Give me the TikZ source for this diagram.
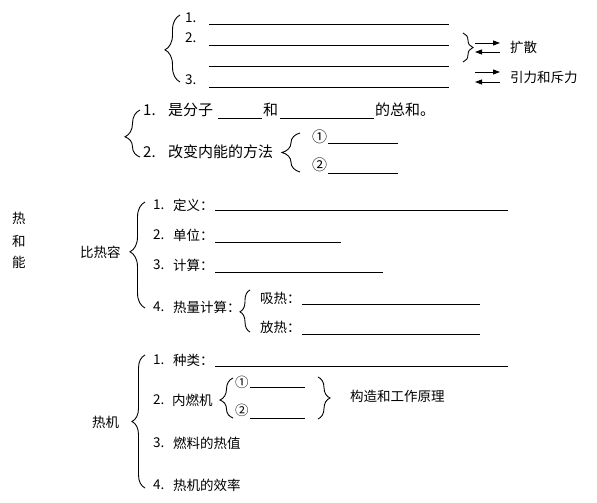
\documentclass[tikz,border=0pt]{standalone}
\usepackage{fontspec}
\setmainfont{Noto Sans CJK SC}
\usetikzlibrary{decorations.pathreplacing,arrows.meta}
\begin{document}
\begin{tikzpicture}[x=1pt,y=-1pt,
  txt/.style={anchor=west, inner sep=0pt, font=\fontsize{13.5}{15}\selectfont},
  big/.style={txt, font=\fontsize{15}{17}\selectfont},
  brc/.style={decorate, decoration={brace, amplitude=#1}, line width=0.9pt},
  brc/.default=14pt,
  blank/.style={line width=0.9pt},
  arr/.style={-{Triangle[length=7pt,width=5pt]}, line width=0.9pt}]
\useasboundingbox[fill=white] (0,0) rectangle (597,503);

% ---------- section 1 ----------
\draw[brc=15pt, decoration={aspect=0.48}] (180,82) -- (180,15);
\node[txt] (a1) at (185,18) {1.};
\node[txt] (a2) at (185,38) {2.};
\node[txt] (a3) at (185,80) {3.};
\draw[blank] (209,24) -- (449,24);
\draw[blank] (209,45) -- (449,45);
\draw[blank] (209,66) -- (449,66);
\draw[blank] (209,87) -- (449,87);
\draw[brc=10pt] (463,33) -- (463,62);
\node[txt] (kuosan) at (510,47) {扩散};
\node[txt] (yinli) at (510,77) {引力和斥力};
\coordinate (r1a) at (475,43); \coordinate (r1b) at (500,43);
\coordinate (l1a) at (500,52); \coordinate (l1b) at (475,52);
\coordinate (r2a) at (475,72); \coordinate (r2b) at (500,72);
\coordinate (l2a) at (500,82); \coordinate (l2b) at (475,82);
\draw[arr] (r1a) -- (r1b);
\draw[arr] (l1a) -- (l1b);
\draw[arr] (r2a) -- (r2b);
\draw[arr] (l2a) -- (l2b);

% ---------- section 2 ----------
\draw[brc=15pt, decoration={aspect=0.43}] (140,157) -- (140,110);
\node[big] (b1) at (143,110) {1.};
\node[big] (b1t) at (168,110) {是分子};
\draw[blank] (218,118) -- (262,118);
\node[big] (b1h) at (263,110) {和};
\draw[blank] (280,118) -- (374,118);
\node[big] (b1e) at (375,110) {的总和。};
\node[big] (b2) at (143,152) {2.};
\node[big] (b2t) at (168,152) {改变内能的方法};
\draw[brc=18pt] (300,172) -- (300,133);
\node[big] (c1) at (312,137) {①};
\draw[blank] (328,143) -- (398,143);
\node[big] (c2) at (312,165) {②};
\draw[blank] (328,173) -- (398,173);

% ---------- section 3 ----------
\node[txt] (re) at (12,218) {热};
\node[txt] (he) at (12,241) {和};
\node[txt] (neng) at (12,262) {能};
\node[txt] (brr) at (80,252) {比热容};
\draw[brc=15pt, decoration={aspect=0.53}] (145,308) -- (145,202);
\node[txt] (d1) at (153,205) {1.};
\node[txt] (d1t) at (173,205) {定义：};
\draw[blank] (215,210) -- (508,210);
\node[txt] (d2) at (153,235) {2.};
\node[txt] (d2t) at (173,235) {单位：};
\draw[blank] (215,242) -- (341,242);
\node[txt] (d3) at (153,265) {3.};
\node[txt] (d3t) at (173,265) {计算：};
\draw[blank] (215,272) -- (383,272);
\node[txt] (d4) at (153,307) {4.};
\node[txt] (d4t) at (173,307) {热量计算：};
\draw[brc=10pt, decoration={aspect=0.48}] (250,332) -- (250,290);
\node[txt] (xr) at (260,298) {吸热：};
\draw[blank] (302,304) -- (480,304);
\node[txt] (fr) at (260,327) {放热：};
\draw[blank] (302,334) -- (480,334);

% ---------- section 4 ----------
\node[txt] (rj) at (92,422) {热机};
\draw[brc=13pt] (145,488) -- (145,355);
\node[txt] (e1) at (153,360) {1.};
\node[txt] (e1t) at (173,360) {种类：};
\draw[blank] (215,366) -- (508,366);
\node[txt] (e2) at (153,400) {2.};
\node[txt] (e2t) at (172,400) {内燃机};
\draw[brc=13pt, decoration={aspect=0.45}] (233,418) -- (233,378);
\node[txt] (f1) at (235,382) {①};
\draw[blank] (250,387) -- (305,387);
\node[txt] (f2) at (235,410) {②};
\draw[blank] (250,418) -- (305,418);
\draw[brc=12pt, decoration={aspect=0.5}] (318,377) -- (318,419);
\node[txt] (gz) at (350,396) {构造和工作原理};
\node[txt] (e3) at (153,443) {3.};
\node[txt] (e3t) at (173,443) {燃料的热值};
\node[txt] (e4) at (153,485) {4.};
\node[txt] (e4t) at (173,485) {热机的效率};
\end{tikzpicture}
\end{document}
